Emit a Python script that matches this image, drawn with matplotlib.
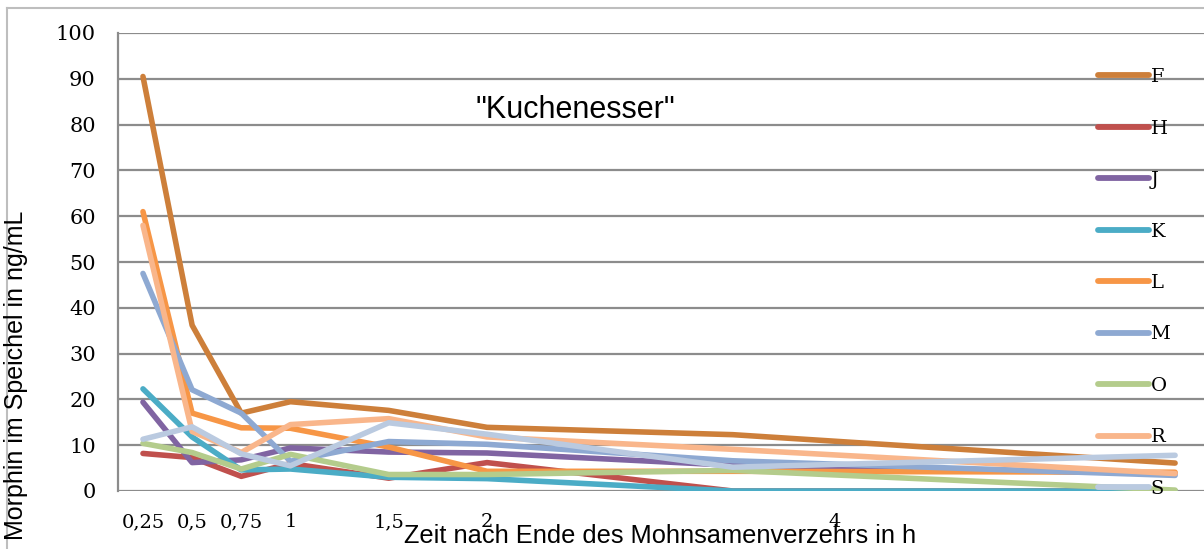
import matplotlib
matplotlib.use("Agg")
import matplotlib.pyplot as plt
from matplotlib.lines import Line2D

# Zeitpunkte in h
HOURS = [0.25, 0.5, 0.75, 1, 1.5, 2, 3.25, 5.5]

# Morphin im Speichel (ng/mL) je Proband
F = [90.5, 36.2, 17.0, 19.5, 17.6, 13.9, 12.3, 6.1]
H = [8.2, 7.3, 3.2, 6.0, 2.8, 6.2, 0.0, 0.0]
J = [19.4, 6.2, 6.8, 9.4, 8.5, 8.3, 5.6, 3.8]
K = [22.3, 11.8, 4.6, 4.8, 3.0, 2.7, 0.0, 0.0]
L = [61.0, 17.0, 13.8, 13.7, 9.6, 4.3, 4.3, 4.1]
M = [47.5, 22.1, 17.0, 6.5, 10.8, 10.2, 6.6, 3.4]
O = [10.4, 8.4, 4.8, 8.0, 3.6, 3.6, 4.5, 0.2]
R = [58.0, 13.0, 8.4, 14.5, 15.8, 11.8, 9.1, 3.8]
S = [11.3, 14.0, 8.1, 5.5, 14.9, 12.4, 5.2, 7.8]

SERIES = {"F": F, "H": H, "J": J, "K": K, "L": L,
          "M": M, "O": O, "R": R, "S": S}

COLORS = {
    "F": "#CD7F3A",
    "H": "#C0504D",
    "J": "#8064A2",
    "K": "#4BACC6",
    "L": "#F79646",
    "M": "#8EA9D2",
    "O": "#B4CC8C",
    "R": "#F9B68B",
    "S": "#BACAE0",
}

XTICK_POS = [0.25, 0.5, 0.75, 1, 1.5, 2, 3.77]
XTICK_LABELS = ["0,25", "0,5", "0,75", "1", "1,5", "2", "4"]
YTICKS = list(range(0, 101, 10))

W, H_PX = 1204, 549
fig = plt.figure(figsize=(W / 100, H_PX / 100), dpi=100)

# plot area in pixels: left 118, bottom 491, top 33, runs off the right edge
ax = fig.add_axes([118 / W, (H_PX - 491) / H_PX, (W - 118) / W, (491 - 33) / H_PX])

grid_c = "#8C8C8C"
for yv in YTICKS:
    ax.axhline(yv, color=grid_c, lw=1.6, zorder=1)

for name, vals in SERIES.items():
    ax.plot(HOURS, vals, color=COLORS[name], lw=4.0, label=name,
            solid_joinstyle="round", solid_capstyle="round", zorder=3)

ax.set_xlim(0.123, 5.647)
ax.set_ylim(0, 100)

for side in ["top", "right", "bottom"]:
    ax.spines[side].set_visible(False)
ax.spines["left"].set_color(grid_c)
ax.spines["left"].set_linewidth(1.6)

ax.set_yticks(YTICKS)
ax.set_xticks(XTICK_POS)
ax.set_xticklabels(XTICK_LABELS)
ax.tick_params(axis="both", length=0)
ax.tick_params(axis="x", pad=16, labelsize=14)
ax.tick_params(axis="y", pad=16, labelsize=15)
for lab in ax.get_xticklabels() + ax.get_yticklabels():
    lab.set_fontfamily("DejaVu Serif")

handles = [Line2D([0], [0], color=COLORS[n], lw=4.2, solid_capstyle="round")
           for n in SERIES]
leg = fig.legend(handles, list(SERIES), loc="center left",
                 bbox_to_anchor=(1098 / W, 1 - 283 / H_PX),
                 frameon=False, borderpad=0, borderaxespad=0,
                 handlelength=2.6, handletextpad=0.1, labelspacing=1.72,
                 prop={"family": "DejaVu Serif", "size": 14})

fig.text(575 / W, 1 - 110 / H_PX, '"Kuchenesser"', ha="center", va="center",
         fontsize=22, family="Liberation Sans")
fig.text(660 / W, (H_PX - 543) / H_PX,
         "Zeit nach Ende des Mohnsamenverzehrs in h",
         ha="center", va="baseline", fontsize=18.3, family="Liberation Sans")
fig.text(16 / W, 1 - 375 / H_PX, "Morphin im Speichel in ng/mL",
         rotation=90, ha="center", va="center", fontsize=18,
         family="Liberation Sans")

# outer chart border (top and left visible)
border_c = "#BEBEBE"
fig.add_artist(Line2D([7 / W, 1], [1 - 8 / H_PX, 1 - 8 / H_PX],
                      transform=fig.transFigure, color=border_c, lw=1.5))
fig.add_artist(Line2D([7 / W, 7 / W], [0, 1 - 8 / H_PX],
                      transform=fig.transFigure, color=border_c, lw=1.5))

fig.savefig("out.png", dpi=100)
